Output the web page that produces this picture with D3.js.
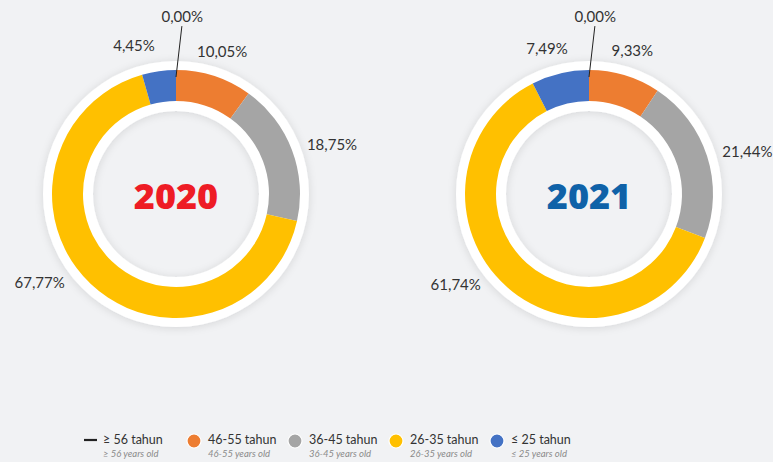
<!DOCTYPE html>
<html>
<head>
<meta charset="utf-8">
<script src="https://cdn.jsdelivr.net/npm/d3@7"></script>
<style>
  html, body { margin: 0; padding: 0; background: #f1f2f4; }
  svg { display: block; font-family: Lato, "Open Sans", sans-serif; }
</style>
</head>
<body>
<script>
// age groups, drawn clockwise from the top
const groups = ["46-55 tahun", "36-45 tahun", "26-35 tahun", "≤ 25 tahun", "≥ 56 tahun"];
const groupsEn = ["46-55 years old", "36-45 years old", "26-35 years old", "≤ 25 years old", "≥ 56 years old"];
const colors = ["#ED7D31", "#A5A5A5", "#FFC000", "#4472C4", "#222222"];

const years = ["2020", "2021"];
const yearColors = ["#EE1C25", "#0F62A8"];
const values2020 = [10.05, 18.75, 67.77, 4.45, 0.00];
const values2021 = [9.33, 21.44, 61.74, 7.49, 0.00];

// legend order
const legendOrder = [4, 0, 1, 2, 3];

const width = 773, height = 462;
const cy = 194;
const centers = [176, 589];

const svg = d3.select("body").append("svg")
  .attr("width", width)
  .attr("height", height);

// soft shadow for the white rings
const defs = svg.append("defs");
const f = defs.append("filter").attr("id", "shadow")
  .attr("x", "-20%").attr("y", "-20%").attr("width", "140%").attr("height", "140%");
f.append("feDropShadow")
  .attr("dx", 0).attr("dy", 1)
  .attr("stdDeviation", 4)
  .attr("flood-color", "#000")
  .attr("flood-opacity", 0.12);

const pie = d3.pie().value(d => d.value).sort(null);

const rOuterWhite = 133, rOuter = 124, rInner = 93, rInnerWhite = 83;

const ringArc = d3.arc().innerRadius(rInnerWhite).outerRadius(rOuterWhite)
  .startAngle(0).endAngle(2 * Math.PI);
const arc = d3.arc().innerRadius(rInner).outerRadius(rOuter);

const fmt = v => d3.format(".2f")(v).replace(".", ",") + "%";

[values2020, values2021].forEach((vals, yi) => {
  const g = svg.append("g").attr("transform", `translate(${centers[yi]},${cy})`);
  const data = vals.map((v, i) => ({ name: groups[i], value: v, i }));
  const arcs = pie(data);

  g.append("path")
    .attr("d", ringArc())
    .attr("fill", "#fff")
    .attr("filter", "url(#shadow)");

  g.selectAll("path.slice")
    .data(arcs.filter(d => d.data.value > 0))
    .join("path")
    .attr("class", "slice")
    .attr("d", arc)
    .attr("fill", d => colors[d.data.i]);

  // value labels
  arcs.forEach(d => {
    const a = (d.startAngle + d.endAngle) / 2;
    if (d.data.value === 0) {
      // zero slice: leader line up to the label
      const tilt = 0.035;
      g.append("line")
        .attr("x1", Math.sin(a) * 117).attr("y1", -Math.cos(a) * 117)
        .attr("x2", Math.sin(a + tilt) * 168).attr("y2", -Math.cos(a + tilt) * 168)
        .attr("stroke", "#222").attr("stroke-width", 1);
      g.append("text")
        .attr("x", Math.sin(a + tilt) * 178).attr("y", -Math.cos(a + tilt) * 178)
        .attr("text-anchor", "middle")
        .attr("dominant-baseline", "central")
        .style("font-size", "15px").style("fill", "#333")
        .text(fmt(d.data.value));
      return;
    }
    const s = Math.sin(a), c = Math.cos(a);
    let anchor = "middle", R = 150, ky = 1;
    if (s > 0.5) { anchor = "start"; R = 140; }
    else if (s < -0.5) { anchor = "end"; R = 162; ky = 0.75; }
    let x = s * R;
    const y = -c * R * ky;
    // keep top labels clear of the zero leader line
    if (anchor === "middle" && c > 0.8 && Math.abs(x) < 42) x = Math.sign(x) * 42;
    g.append("text")
      .attr("x", x).attr("y", y)
      .attr("text-anchor", anchor)
      .attr("dominant-baseline", "central")
      .style("font-size", "15px").style("fill", "#333")
      .text(fmt(d.data.value));
  });

  g.append("text")
    .attr("y", 1)
    .attr("text-anchor", "middle")
    .attr("dominant-baseline", "central")
    .style("font-family", "'Open Sans', sans-serif")
    .style("font-size", "36px")
    .style("font-weight", 800)
    .style("fill", yearColors[yi])
    .text(years[yi]);
});

// legend
const lx = d3.scaleLinear().domain([0, 1]).range([83, 184]);
const legend = svg.append("g").attr("transform", "translate(0,440)");
legendOrder.forEach((gi, k) => {
  const x0 = lx(k);
  const item = legend.append("g").attr("transform", `translate(${x0},0)`);
  if (gi === 4) {
    item.append("line")
      .attr("x1", 1).attr("x2", 14).attr("y1", 0).attr("y2", 0)
      .attr("stroke", colors[gi]).attr("stroke-width", 2.2);
  } else {
    item.append("circle")
      .attr("cx", 10).attr("cy", 1).attr("r", 7)
      .attr("fill", colors[gi])
      .attr("stroke", "#fff").attr("stroke-width", 1.2);
  }
  const tx = gi === 4 ? 20 : 24;
  item.append("text")
    .attr("x", tx).attr("y", 4)
    .style("font-size", "12.5px").style("fill", "#333")
    .text(groups[gi]);
  item.append("text")
    .attr("x", tx).attr("y", 17)
    .style("font-size", "9.5px").style("font-style", "italic").style("fill", "#8a8a8a")
    .text(groupsEn[gi]);
});
</script>
</body>
</html>
